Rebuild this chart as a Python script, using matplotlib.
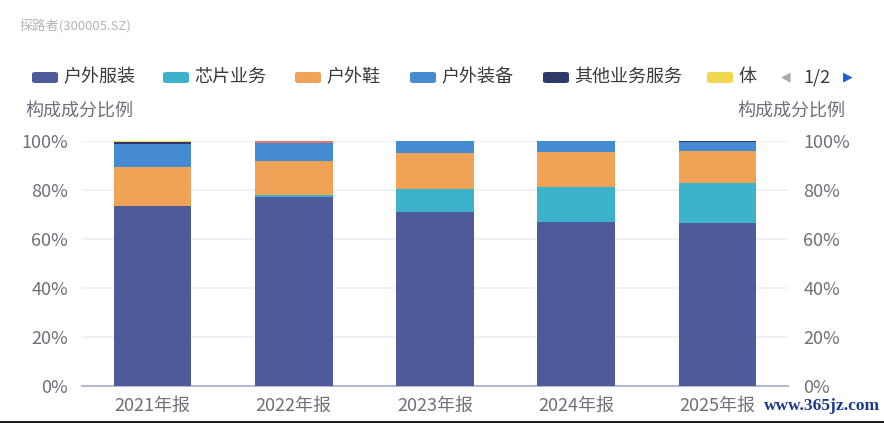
import matplotlib
matplotlib.use('Agg')
import matplotlib.pyplot as plt
from matplotlib.patches import FancyBboxPatch
import numpy as np

plt.rcParams['font.family'] = ['Noto Sans CJK SC', 'DejaVu Sans']

# data (percent of revenue)
categories = ['2021年报', '2022年报', '2023年报', '2024年报', '2025年报']
apparel = [73.5, 77.3, 70.8, 67.0, 66.6]
chips = [0.0, 0.7, 9.6, 14.0, 16.3]
shoes = [15.8, 14.0, 14.5, 14.4, 13.1]
equipment = [9.5, 7.2, 5.0, 4.4, 3.6]
other_services = [0.8, 0.0, 0.1, 0.2, 0.4]
body = [0.4, 0.0, 0.0, 0.0, 0.0]
page2_series = [0.0, 0.8, 0.0, 0.0, 0.0]

series_names = ['户外服装', '芯片业务', '户外鞋', '户外装备', '其他业务服务', '体', '其他']
series_values = [apparel, chips, shoes, equipment, other_services, body, page2_series]
colors = ['#4e5a99', '#3db3cb', '#f0a356', '#448bd2', '#2e3a6a', '#f2d64e', '#e8736d']

W, H = 884, 423
fig = plt.figure(figsize=(W / 100, H / 100), dpi=100)

def fx(px):
    return px / W

def fy(py):
    return 1 - py / H

ax = fig.add_axes([fx(82), fy(385.5), fx(788) - fx(82), fy(141) - fy(385.5)])

x = np.arange(len(categories))
bottom = np.zeros(len(categories))
for name, vals, c in zip(series_names, series_values, colors):
    v = np.array(vals)
    ax.bar(x, v, width=0.55, bottom=bottom, color=c, edgecolor='none', zorder=3)
    bottom += v

ax.set_xlim(-0.5, len(categories) - 0.5)
ax.set_ylim(0, 100)
ax.set_yticks([0, 20, 40, 60, 80, 100])
ax.set_yticklabels([f'{t}%' for t in [0, 20, 40, 60, 80, 100]])
ax.set_xticks(x)
ax.set_xticklabels(categories)
ax.grid(axis='y', color='#eeeef6', linewidth=1.2, zorder=0)
for s in ['top', 'right', 'left']:
    ax.spines[s].set_visible(False)
ax.spines['bottom'].set_color('#b6b9d3')
ax.spines['bottom'].set_linewidth(1.5)
ax.tick_params(axis='y', length=0, pad=10, labelsize=13, labelcolor='#6e7079')
ax.tick_params(axis='x', length=0, pad=8, labelsize=13, labelcolor='#6e7079')

ax2 = ax.twinx()
ax2.set_ylim(0, 100)
ax2.set_yticks([0, 20, 40, 60, 80, 100])
ax2.set_yticklabels([f'{t}%' for t in [0, 20, 40, 60, 80, 100]])
for s in ax2.spines.values():
    s.set_visible(False)
ax2.tick_params(axis='y', length=0, pad=11, labelsize=13, labelcolor='#6e7079')

# axis titles
fig.text(fx(25), fy(112), '构成成分比例', fontsize=13, color='#6e7079', ha='left', va='center')
fig.text(fx(845), fy(112), '构成成分比例', fontsize=13, color='#6e7079', ha='right', va='center')

# title
fig.text(fx(20), fy(27), '探路者(300005.SZ)', fontsize=9.5, color='#b4b4b4', ha='left', va='center')

# legend (first page)
legend_x = [32, 163, 295, 410, 543, 707]
for lx, name, c in zip(legend_x, series_names[:6], colors[:6]):
    fig.patches.append(FancyBboxPatch((fx(lx), fy(83)), fx(26), fy(72) - fy(83),
                                      boxstyle='round,pad=0,rounding_size=0.004',
                                      transform=fig.transFigure, facecolor=c,
                                      edgecolor='none'))
    fig.text(fx(lx + 31), fy(77), name, fontsize=13, color='#3a3a3a', ha='left', va='center')
fig.text(fx(786), fy(77), '◀', fontsize=9, color='#aaaaaa', ha='center', va='center',
         family=['DejaVu Sans'])
fig.text(fx(817), fy(77), '1/2', fontsize=13, color='#3a3a3a', ha='center', va='center')
fig.text(fx(848), fy(77), '▶', fontsize=9, color='#1f5fd6', ha='center', va='center',
         family=['DejaVu Sans'])

# watermark
fig.text(fx(880), fy(406), 'www.365jz.com', fontsize=12.5, color='#1b3a8c', ha='right',
         va='center', family=['Liberation Serif'], fontweight='bold')

# bottom border of the screenshot
fig.add_artist(plt.Line2D([0, 1], [fy(421.5), fy(421.5)], transform=fig.transFigure,
                          color='#111111', linewidth=2))

fig.savefig('out.png', dpi=100)
